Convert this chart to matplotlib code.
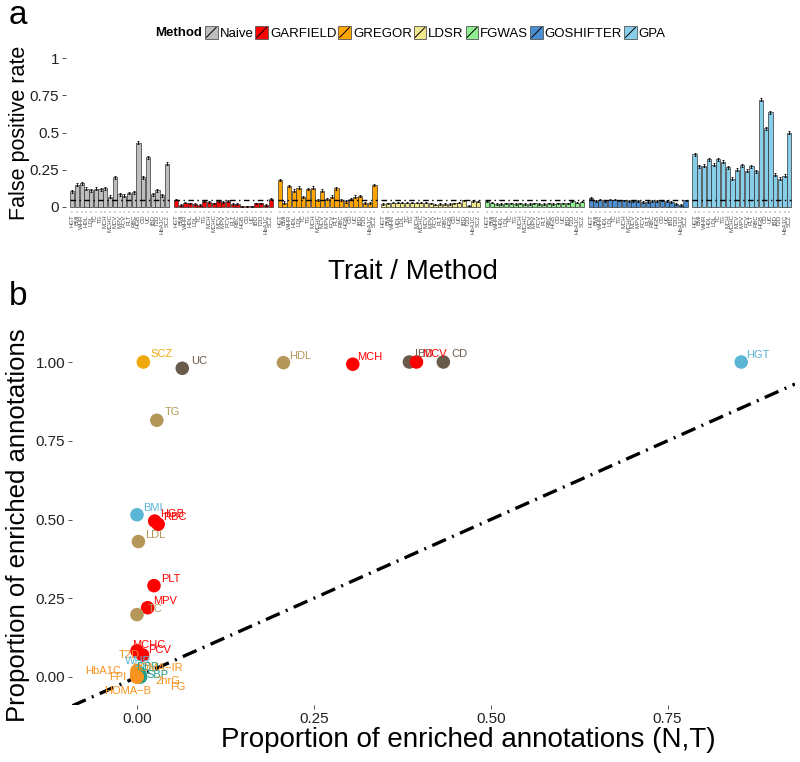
import numpy as np
import matplotlib
matplotlib.use("Agg")
import matplotlib.pyplot as plt
from matplotlib.patches import Rectangle
from matplotlib.lines import Line2D
from matplotlib.legend_handler import HandlerBase

plt.rcParams['font.family'] = ['Liberation Sans', 'DejaVu Sans']

# ---------------- data: panel a ----------------
methods = ["Naive", "GARFIELD", "GREGOR", "LDSR", "FGWAS", "GOSHIFTER", "GPA"]
method_colors = ["#BEBEBE", "#FF0000", "#FFA500", "#F0E68C", "#90EE90", "#4A8FD2", "#87CEEB"]
traits_a = ["HGT", "BMI", "WHR", "HDL", "LDL", "TC", "TG", "MCH", "MCHC", "MCV", "MPV",
            "PCV", "PLT", "RBC", "HGB", "CD", "UC", "IBD", "T2D", "HbA1C", "SCZ"]
fpr_naive = [0.105, 0.15, 0.158, 0.124, 0.114, 0.122, 0.118, 0.126, 0.07, 0.198, 0.084,
             0.074, 0.094, 0.10, 0.432, 0.20, 0.335, 0.084, 0.114, 0.078, 0.29]
fpr_garfield = [0.05, 0.015, 0.03, 0.025, 0.02, 0.015, 0.04, 0.035, 0.025, 0.04, 0.035,
                0.04, 0.02, 0.02, 0.005, 0.005, 0.005, 0.025, 0.025, 0.015, 0.055]
fpr_gregor = [0.18, 0.03, 0.14, 0.11, 0.13, 0.067, 0.12, 0.13, 0.046, 0.11, 0.054,
              0.07, 0.125, 0.046, 0.037, 0.054, 0.07, 0.075, 0.027, 0.027, 0.146]
fpr_ldsr = [0.02, 0.025, 0.03, 0.03, 0.03, 0.03, 0.03, 0.03, 0.03, 0.03, 0.025,
            0.015, 0.02, 0.02, 0.02, 0.025, 0.03, 0.045, 0.01, 0.04, 0.035]
fpr_fgwas = [0.04, 0.03, 0.02, 0.02, 0.025, 0.025, 0.02, 0.025, 0.02, 0.02, 0.025,
             0.02, 0.02, 0.025, 0.02, 0.025, 0.025, 0.025, 0.04, 0.03, 0.035]
fpr_goshifter = [0.06, 0.04, 0.05, 0.04, 0.05, 0.05, 0.045, 0.045, 0.04, 0.04, 0.04,
                 0.035, 0.035, 0.04, 0.04, 0.045, 0.04, 0.035, 0.02, 0.015, 0.045]
fpr_gpa = [0.353, 0.272, 0.277, 0.32, 0.283, 0.32, 0.305, 0.268, 0.19, 0.25, 0.28,
           0.243, 0.274, 0.24, 0.72, 0.53, 0.636, 0.215, 0.19, 0.21, 0.50]
fpr_err = [0.010, 0.005, 0.008, 0.004, 0.004, 0.005, 0.010]
alpha_level = 0.05

# ---------------- data: panel b ----------------
traits_b = ["SCZ", "UC", "HDL", "MCH", "IBD", "MCV", "CD", "HGT", "TG", "BMI", "HGB",
            "RBC", "LDL", "PLT", "MPV", "TC", "MCHC", "PCV", "T2D", "WHR", "DBP",
            "HOMA\u2212IR", "HbA1C", "FPI", "SBP", "2hrG", "FG", "HOMA\u2212B"]
prop_NT = [0.009, 0.064, 0.207, 0.305, 0.385, 0.395, 0.433, 0.854, 0.028, 0.0, 0.025,
           0.03, 0.002, 0.024, 0.015, 0.0, 0.0, 0.008, 0.0, 0.002, 0.004,
           0.0, 0.0, 0.0, 0.005, 0.0, 0.0, 0.0]
prop_enriched = [1.0, 0.98, 0.998, 0.993, 1.0, 1.0, 1.0, 1.0, 0.815, 0.515, 0.495,
                 0.485, 0.43, 0.29, 0.22, 0.198, 0.083, 0.07, 0.02, 0.015, 0.01,
                 0.005, 0.01, 0.005, 0.0, 0.0, 0.0, 0.0]
trait_group = ["psych", "immune", "lipid", "blood", "immune", "blood", "immune", "anthro",
               "lipid", "anthro", "blood", "blood", "lipid", "blood", "blood", "lipid",
               "blood", "blood", "glyc", "anthro", "bp", "glyc", "glyc", "glyc", "bp",
               "glyc", "glyc", "glyc"]

# ---------------- styles ----------------
group_colors = {"psych": "#EFA90C", "immune": "#6A5A4C", "lipid": "#B59859", "blood": "#FF0000",
                "anthro": "#5BB5D5", "glyc": "#F7931E", "bp": "#1F9E89"}
label_offsets_px = {"SCZ": (18, 8), "UC": (17, 7), "HDL": (17, 7), "MCH": (17, 7), "IBD": (15, 8),
                    "MCV": (18, 8), "CD": (16, 8), "HGT": (17, 7), "TG": (16, 8), "BMI": (16, 7),
                    "HGB": (17, 7), "RBC": (17, 7), "LDL": (17, 7), "PLT": (17, 7), "MPV": (17, 7),
                    "TC": (18, 6), "MCHC": (12, 6), "PCV": (17, 5), "T2D": (-8, 16), "WHR": (0, 11),
                    "DBP": (8, 7), "HOMA\u2212IR": (20, 7), "HbA1C": (-34, 3), "FPI": (-19, -2),
                    "SBP": (17, 2), "2hrG": (31, -4), "FG": (41, -10), "HOMA\u2212B": (-9, -14)}

W, H = 800, 762
fig = plt.figure(figsize=(W / 100, H / 100), dpi=100)


def ax_rect(left, top, right, bottom):
    return [left / W, 1 - bottom / H, (right - left) / W, (bottom - top) / H]


# ---------------- panel a ----------------
fpr_all = [fpr_naive, fpr_garfield, fpr_gregor, fpr_ldsr, fpr_fgwas, fpr_goshifter, fpr_gpa]
n = len(traits_a)
gap = 0.9
ylo, yhi = -0.03, 1.03
ya1, ya0 = 58, 207          # pixel rows of y=1 and y=0
ppu = ya0 - ya1
axa = fig.add_axes(ax_rect(66, ya1 - 0.03 * ppu, 795, ya0 + 0.03 * ppu))
all_pos, all_lab = [], []
for g, (vals, col) in enumerate(zip(fpr_all, method_colors)):
    pos = np.arange(n) + g * (n + gap)
    axa.bar(pos, vals, width=0.9, color=col, edgecolor="#333333", linewidth=0.5, zorder=2)
    axa.errorbar(pos, vals, yerr=fpr_err[g], fmt="none", ecolor="black", elinewidth=0.6,
                 capsize=1.0, capthick=0.6, zorder=3)
    axa.plot([pos[0] - 0.45, pos[-1] + 0.45], [alpha_level, alpha_level], color="black",
             lw=1.0, linestyle=(0, (4, 2.5, 1, 2.5)), zorder=4)
    all_pos.extend(pos)
    all_lab.extend(traits_a)
axa.set_xlim(-1.3, (len(methods) - 1) * (n + gap) + n - 1 + 1.2)
axa.set_ylim(ylo, yhi)
axa.set_xticks(all_pos)
axa.set_xticklabels(all_lab, rotation=90, fontsize=4.3, color="#4D4D4D")
axa.set_yticks([0, 0.25, 0.5, 0.75, 1])
axa.set_yticklabels(["0", "0.25", "0.5", "0.75", "1"])
axa.tick_params(axis="y", labelsize=11, length=3, width=0.6, color="#333333", labelcolor="#222222", pad=2)
axa.tick_params(axis="x", length=1.2, width=0.3, color="#333333", pad=1)
for s in axa.spines.values():
    s.set_visible(False)
fig.text(20 / W, 1 - 133 / H, "False positive rate", fontsize=15.5, rotation=90, ha="center", va="center")
fig.text(413 / W, 1 - 272 / H, "Trait / Method", fontsize=20, ha="center", va="center")


class SlashHandler(HandlerBase):
    def create_artists(self, legend, orig_handle, xdescent, ydescent, width, height, fontsize, trans):
        r = Rectangle((-xdescent, -ydescent), width, height, facecolor=orig_handle.get_facecolor(),
                      edgecolor="#555555", lw=0.6, transform=trans)
        l = Line2D([-xdescent + 1, -xdescent + width - 1], [-ydescent + 1, -ydescent + height - 1],
                   color="black", lw=0.7, transform=trans)
        return [r, l]


handles = [Rectangle((0, 0), 1, 1, facecolor=c) for c in method_colors]
fig.text(155 / W, 1 - 33 / H, "Method", fontsize=9.5, fontweight="bold", ha="left", va="center")
fig.legend(handles, methods, handler_map={Rectangle: SlashHandler()}, loc="center left",
           bbox_to_anchor=(205 / W, 1 - 33 / H), ncol=7, frameon=False, fontsize=9.5,
           handlelength=0.95, handleheight=1.1, handletextpad=0.15, columnspacing=0.15,
           borderpad=0, borderaxespad=0)

fig.text(9 / W, 1 - 15 / H, "a", fontsize=24, ha="left", va="center")
fig.text(9 / W, 1 - 296 / H, "b", fontsize=24, ha="left", va="center")

# ---------------- panel b ----------------
x0px, pxu = 137, 707.5
yb1, yb0 = 362, 677
bpu = yb0 - yb1
bleft, bright = 72, 795
xlo, xhi = (bleft - x0px) / pxu, (bright - x0px) / pxu
bylo, byhi = -0.09, 1.07
axb = fig.add_axes(ax_rect(bleft, yb1 - 0.07 * bpu, bright, yb0 + 0.09 * bpu))
axb.set_xlim(xlo, xhi)
axb.set_ylim(bylo, byhi)
axb.plot([xlo, xhi], [xlo, xhi], color="black", lw=2.4, linestyle=(0, (4.5, 2, 0.6, 2)), zorder=1)
cols = [group_colors[g] for g in trait_group]
axb.scatter(prop_NT, prop_enriched, s=95, c=cols, edgecolors="none", zorder=3)
for t, x, y, g in zip(traits_b, prop_NT, prop_enriched, trait_group):
    dx, dy = label_offsets_px[t]
    axb.annotate(t, (x, y), xytext=(dx * 0.72, dy * 0.72), textcoords="offset points",
                 ha="center", va="center", fontsize=8, color=group_colors[g], zorder=4)
axb.set_xticks([0, 0.25, 0.5, 0.75])
axb.set_xticklabels(["0.00", "0.25", "0.50", "0.75"])
axb.set_yticks([0, 0.25, 0.5, 0.75, 1.0])
axb.set_yticklabels(["0.00", "0.25", "0.50", "0.75", "1.00"])
axb.tick_params(labelsize=11, length=3, width=0.6, color="#333333", labelcolor="#222222", pad=2)
for s in axb.spines.values():
    s.set_visible(False)
fig.text(468 / W, 1 - 740 / H, "Proportion of enriched annotations (N,T)", fontsize=20,
         ha="center", va="center")
fig.text(18 / W, 1 - 525 / H, "Proportion of enriched annotations", fontsize=18.5, rotation=90,
         ha="center", va="center")

fig.savefig("out.png", dpi=100)
